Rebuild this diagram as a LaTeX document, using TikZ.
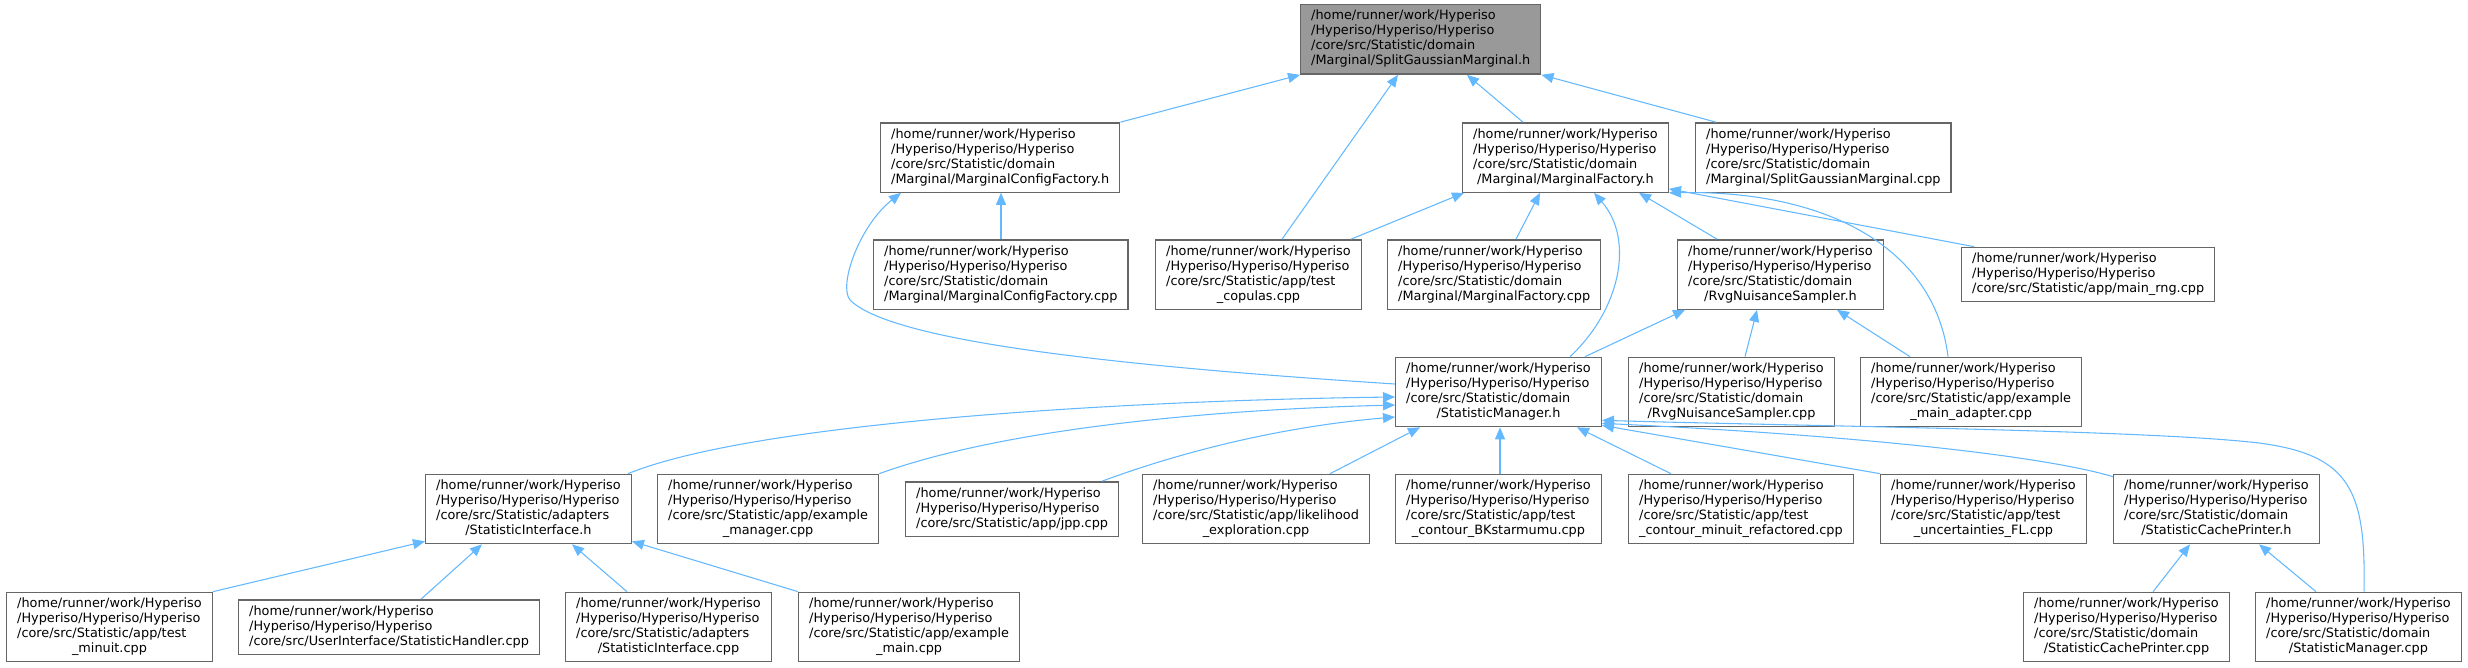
\documentclass[tikz,border=0pt]{standalone}
\usepackage{fontspec}
\setmainfont{DejaVu Sans}
\usepackage{tikz}
\usetikzlibrary{arrows.meta,calc}
\newcommand{\inners}{7.9pt}
\newcommand{\outers}{3.5pt}
\definecolor{edgeblue}{HTML}{63B8FF}
\definecolor{boxgray}{HTML}{666666}
\definecolor{rootgray}{HTML}{999999}
\newcommand{\hpre}{/home/runner/work/Hyperiso\\/Hyperiso/Hyperiso/Hyperiso\\}
\newcommand{\flab}[2]{\begin{tabular}{@{}l@{}}\hpre#1\\\multicolumn{1}{@{}c@{}}{#2}\end{tabular}}
\newcommand{\flabs}[1]{\begin{tabular}{@{}l@{}}\hpre\multicolumn{1}{@{}c@{}}{#1}\end{tabular}}
\tikzset{
  file/.style={draw=boxgray, fill=white, line width=1pt, anchor=west,
    inner xsep=\inners, inner ysep=\outers, font=\fontsize{9.64}{11.25}\selectfont},
  rootfile/.style={file, fill=rootgray},
  dep/.style={draw=edgeblue, line width=0.8pt, -{Triangle[length=9pt,width=7.5pt]}},
}

\begin{document}
\begin{tikzpicture}[x=0.75pt,y=-0.75pt]
    %\draw[help lines] (0,0) grid[step=100] (2468,667);
    \useasboundingbox (0,0) rectangle (2468,667);
    % files
    \node[rootfile] (root) at (1300,39.5) {\flab{/core/src/Statistic/domain}{/Marginal/SplitGaussianMarginal.h}};
    \node[file] (mcfh) at (880,157.5) {\flab{/core/src/Statistic/domain}{/Marginal/MarginalConfigFactory.h}};
    \node[file] (mfh) at (1462,157.5) {\flab{/core/src/Statistic/domain}{/Marginal/MarginalFactory.h}};
    \node[file] (sgmcpp) at (1695,157.5) {\flab{/core/src/Statistic/domain}{/Marginal/SplitGaussianMarginal.cpp}};
    \node[file] (mcfcpp) at (873,274.5) {\flab{/core/src/Statistic/domain}{/Marginal/MarginalConfigFactory.cpp}};
    \node[file] (testcop) at (1155,274.5) {\flab{/core/src/Statistic/app/test}{\_copulas.cpp}};
    \node[file] (mfcpp) at (1387,274.5) {\flab{/core/src/Statistic/domain}{/Marginal/MarginalFactory.cpp}};
    \node[file] (rvgh) at (1677,274.5) {\flab{/core/src/Statistic/domain}{/RvgNuisanceSampler.h}};
    \node[file] (mainrng) at (1961,274.5) {\flabs{/core/src/Statistic/app/main\_rng.cpp}};
    \node[file] (smh) at (1395,392) {\flab{/core/src/Statistic/domain}{/StatisticManager.h}};
    \node[file] (rvgcpp) at (1628,392) {\flab{/core/src/Statistic/domain}{/RvgNuisanceSampler.cpp}};
    \node[file] (exadapt) at (1860,392) {\flab{/core/src/Statistic/app/example}{\_main\_adapter.cpp}};
    \node[file] (sih) at (425,509) {\flab{/core/src/Statistic/adapters}{/StatisticInterface.h}};
    \node[file] (exmanager) at (657,509) {\flab{/core/src/Statistic/app/example}{\_manager.cpp}};
    \node[file] (jpp) at (905,509) {\flabs{/core/src/Statistic/app/jpp.cpp}};
    \node[file] (likelihood) at (1142,509) {\flab{/core/src/Statistic/app/likelihood}{\_exploration.cpp}};
    \node[file] (bkstar) at (1395,509) {\flab{/core/src/Statistic/app/test}{\_contour\_BKstarmumu.cpp}};
    \node[file] (minuitref) at (1628,509) {\flab{/core/src/Statistic/app/test}{\_contour\_minuit\_refactored.cpp}};
    \node[file] (uncertfl) at (1880,509) {\flab{/core/src/Statistic/app/test}{\_uncertainties\_FL.cpp}};
    \node[file] (scph) at (2113,509) {\flab{/core/src/Statistic/domain}{/StatisticCachePrinter.h}};
    \node[file] (testminuit) at (6,627) {\flab{/core/src/Statistic/app/test}{\_minuit.cpp}};
    \node[file] (shcpp) at (238,627) {\flabs{/core/src/UserInterface/StatisticHandler.cpp}};
    \node[file] (sicpp) at (565,627) {\flab{/core/src/Statistic/adapters}{/StatisticInterface.cpp}};
    \node[file] (exmain) at (798,627) {\flab{/core/src/Statistic/app/example}{\_main.cpp}};
    \node[file] (scpcpp) at (2023,627) {\flab{/core/src/Statistic/domain}{/StatisticCachePrinter.cpp}};
    \node[file] (smcpp) at (2255,627) {\flab{/core/src/Statistic/domain}{/StatisticManager.cpp}};
    % includes of SplitGaussianMarginal.h
    \draw[dep] (mcfh.north east) -- (root.south west);
    \draw[dep] ($(testcop.north west)+(127,0)$) -- ($(root.south west)+(98,0)$);
    \draw[dep] ($(mfh.north west)+(61,0)$) -- ($(root.south west)+(167,0)$);
    \draw[dep] ($(sgmcpp.north west)+(21,0)$) -- (root.south east);
    % MarginalConfigFactory.h
    \draw[dep] ($(mcfcpp.north west)+(128,0)$) -- ($(mcfh.south west)+(121,0)$);
    \draw[dep] ($(smh.west)+(0,-8)$) .. controls (1100,365) and (890,340) .. (850,300)
        .. controls (838,285) and (860,225) .. ($(mcfh.south west)+(21,0)$);
    % MarginalFactory.h
    \draw[dep] ($(testcop.north west)+(196,0)$) -- ($(mfh.south west)+(2,0)$);
    \draw[dep] ($(mfcpp.north west)+(129,0)$) -- ($(mfh.south west)+(78,0)$);
    \draw[dep] ($(smh.north west)+(175,0)$) .. controls (1620,310) and (1635,240) .. ($(mfh.south west)+(132,0)$);
    \draw[dep] ($(rvgh.north west)+(40,0)$) -- ($(mfh.south west)+(177,0)$);
    \draw[dep] ($(mainrng.north west)+(13,0)$) -- ($(mfh.south east)+(0,-4)$);
    \draw[dep] ($(exadapt.north west)+(88,0)$) .. controls (1935,250) and (1830,190) .. (mfh.south east);
    % RvgNuisanceSampler.h
    \draw[dep] ($(smh.north west)+(190,0)$) -- ($(rvgh.south west)+(8,0)$);
    \draw[dep] ($(rvgcpp.north west)+(117,0)$) -- ($(rvgh.south west)+(80,0)$);
    \draw[dep] ($(exadapt.north west)+(50,0)$) -- ($(rvgh.south west)+(160,0)$);
    % StatisticManager.h
    \draw[dep] ($(sih.north east)+(-4,0)$) .. controls (760,420) and (1150,400) .. ($(smh.west)+(0,5)$);
    \draw[dep] (exmanager.north east) .. controls (1000,430) and (1200,410) .. ($(smh.west)+(0,13)$);
    \draw[dep] ($(jpp.north west)+(197,0)$) .. controls (1200,445) and (1300,425) .. ($(smh.west)+(0,25)$);
    \draw[dep] ($(likelihood.north west)+(188,0)$) -- ($(smh.south west)+(25,0)$);
    \draw[dep] ($(bkstar.north west)+(105,0)$) -- ($(smh.south west)+(105,0)$);
    \draw[dep] ($(minuitref.north west)+(43,0)$) -- ($(smh.south west)+(182,0)$);
    \draw[dep] (uncertfl.north west) -- ($(smh.south east)+(0,-2)$);
    \draw[dep] ($(scph.north west)+(0,3)$) .. controls (2040,455) and (1850,435) .. ($(smh.south east)+(0,-4)$);
    \draw[dep] ($(smcpp.north west)+(109,0)$) .. controls (2366,490) and (2350,455) .. (2259,443)
        .. controls (2150,430) and (1800,426) .. ($(smh.south east)+(0,-7)$);
    % StatisticInterface.h
    \draw[dep] (testminuit.north east) -- ($(sih.south west)+(0,-3)$);
    \draw[dep] ($(shcpp.north west)+(183,0)$) -- ($(sih.south west)+(57,0)$);
    \draw[dep] ($(sicpp.north west)+(62,0)$) -- ($(sih.south west)+(147,0)$);
    \draw[dep] (exmain.north west) -- ($(sih.south east)+(0,-3)$);
    % StatisticCachePrinter.h
    \draw[dep] ($(scpcpp.north west)+(130,0)$) -- ($(scph.south west)+(77,0)$);
    \draw[dep] ($(smcpp.north west)+(61,0)$) -- ($(scph.south west)+(146,0)$);
\end{tikzpicture}
\end{document}
